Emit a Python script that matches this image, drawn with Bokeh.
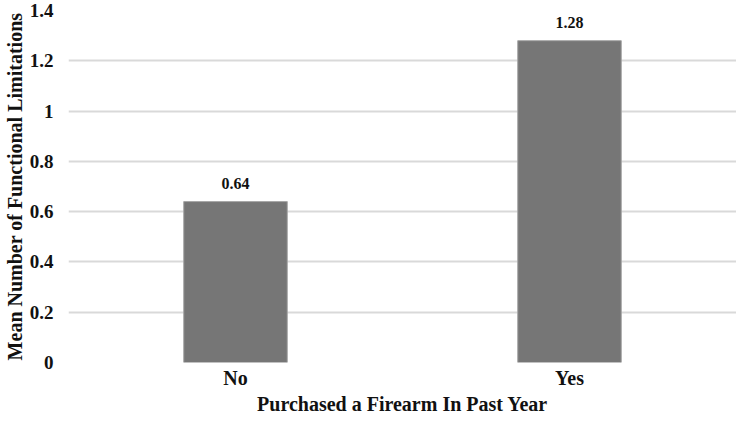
from bokeh.plotting import figure
from bokeh.models import ColumnDataSource, FactorRange, Range1d, LabelSet, FixedTicker
from bokeh.embed import file_html
from bokeh.resources import INLINE

categories = ["No", "Yes"]
values = [0.64, 1.28]
value_labels = ["0.64", "1.28"]
y_ticks = [0, 0.2, 0.4, 0.6, 0.8, 1.0, 1.2, 1.4]
y_tick_labels = {0: "0", 0.2: "0.2", 0.4: "0.4", 0.6: "0.6", 0.8: "0.8", 1.0: "1", 1.2: "1.2", 1.4: "1.4"}

FONT = "Liberation Serif"

source = ColumnDataSource(dict(cat=categories, val=values, lab=value_labels))

p = figure(
    x_range=FactorRange(*categories),
    y_range=Range1d(0, 1.4),
    width=736, height=417,
    output_backend="svg", toolbar_location=None,
    min_border_left=0, min_border_right=0, min_border_top=10, min_border_bottom=0,
)
p.outline_line_color = None
p.background_fill_color = "white"
p.border_fill_color = "white"

p.vbar(x="cat", top="val", width=0.31, source=source,
       fill_color="#767676", line_color="#a6a6a6", line_width=1)

labels = LabelSet(x="cat", y="val", text="lab", source=source,
                  text_align="center", text_baseline="alphabetic", y_offset=13,
                  text_font=FONT, text_font_style="bold", text_font_size="16px",
                  text_color="#111111")
p.add_layout(labels)

p.ygrid.grid_line_color = "#d9d9d9"
p.ygrid.grid_line_width = 2
p.xgrid.grid_line_color = None

p.yaxis.ticker = FixedTicker(ticks=y_ticks)
p.yaxis.major_label_overrides = y_tick_labels
for ax in (p.xaxis, p.yaxis):
    ax.axis_line_color = None
    ax.major_tick_line_color = None
    ax.minor_tick_line_color = None
    ax.major_tick_out = 0
    ax.major_tick_in = 0
    ax.major_label_text_font = FONT
    ax.major_label_text_font_style = "bold"
    ax.major_label_text_color = "#111111"
    ax.axis_label_text_font = FONT
    ax.axis_label_text_font_style = "bold"
    ax.axis_label_text_font_size = "20px"
    ax.axis_label_text_color = "#111111"

p.yaxis.major_label_text_font_size = "19px"
p.xaxis.major_label_text_font_size = "20px"

p.yaxis.axis_label = "Mean Number of Functional Limitations"
p.yaxis.major_label_standoff = 15
p.yaxis.axis_label_standoff = 1
p.xaxis.axis_label = "Purchased a Firearm In Past Year"
p.xaxis.major_label_standoff = 4
p.xaxis.axis_label_standoff = 1

open("out.html", "w").write(file_html(p, INLINE))
